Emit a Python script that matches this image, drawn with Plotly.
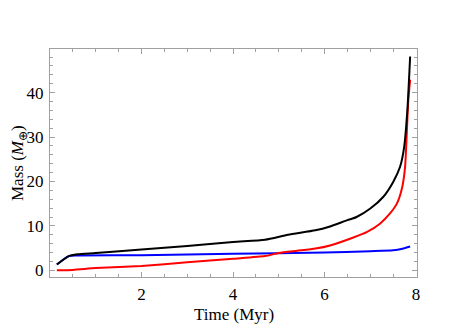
import plotly.graph_objects as go

# core masses vs time
t_black = [0.15, 0.41, 0.6, 1.0, 2.0, 3.0, 4.0, 4.7, 5.2, 5.8, 6.1, 6.5, 6.7, 7.0, 7.28,
           7.5, 7.65, 7.74, 7.81, 7.87]
m_black = [1.3, 3.2, 3.6, 3.9, 4.7, 5.5, 6.4, 6.9, 8.0, 9.0, 9.8, 11.3, 12.0, 13.9, 16.5,
           19.9, 23.3, 27.8, 36.1, 48.1]

t_red = [0.15, 0.5, 1.0, 2.0, 3.0, 4.0, 4.7, 5.0, 5.4, 5.8, 6.12, 6.63, 6.92, 7.21, 7.43,
         7.58, 7.69, 7.76, 7.79, 7.83, 7.87]
m_red = [0.0, 0.1, 0.5, 1.0, 1.8, 2.6, 3.2, 3.9, 4.4, 4.9, 5.6, 7.4, 8.6, 10.5, 12.8,
         15.0, 18.4, 23.3, 29.3, 38.3, 42.9]

t_blue = [0.15, 0.41, 0.6, 2.0, 4.0, 6.0, 7.0, 7.5, 7.7, 7.87]
m_blue = [1.3, 3.2, 3.35, 3.4, 3.75, 4.0, 4.3, 4.5, 4.85, 5.35]

font = dict(family='Liberation Serif, Times New Roman, serif', size=17, color='black')

fig = go.Figure()
fig.add_trace(go.Scatter(x=t_blue, y=m_blue, mode='lines',
                         line=dict(color='#0000ff', width=2, shape='spline', smoothing=0.6)))
fig.add_trace(go.Scatter(x=t_red, y=m_red, mode='lines',
                         line=dict(color='#ff0000', width=2, shape='spline', smoothing=0.6)))
fig.add_trace(go.Scatter(x=t_black, y=m_black, mode='lines',
                         line=dict(color='black', width=2, shape='spline', smoothing=0.6)))

axis_style = dict(showgrid=False, zeroline=False, showline=True, linecolor='#a0a0a0',
                  linewidth=1, mirror='ticks', ticks='inside', ticklen=5, tickwidth=1,
                  tickcolor='#a0a0a0', tickfont=font, ticklabelstandoff=2, automargin=False)

fig.update_xaxes(range=[0.0, 8.02], tickvals=[2, 4, 6, 8],
                 minor=dict(dtick=0.5, ticks='inside', ticklen=3, tickcolor='#a0a0a0'),
                 **axis_style)
fig.update_yaxes(range=[-1.5, 49.8], tickvals=[0, 10, 20, 30, 40],
                 minor=dict(dtick=2, ticks='inside', ticklen=3, tickcolor='#a0a0a0'),
                 **axis_style)

# axis titles placed by hand
fig.add_annotation(text='Time (Myr)', xref='paper', yref='paper', x=0.5, y=0,
                   xanchor='center', yanchor='middle', yshift=-37, showarrow=False, font=font)
fig.add_annotation(text='Mass (<i>M</i><sub>⊕</sub>)', xref='paper', yref='paper', x=0, y=0.5,
                   xanchor='center', yanchor='middle', xshift=-31, textangle=-90,
                   showarrow=False, font=font)

# the page body adds an 8px offset, so the figure is a bit smaller than the window
fig.update_layout(width=459, height=319, showlegend=False,
                  margin=dict(l=42, r=50, t=41, b=50),
                  plot_bgcolor='white', paper_bgcolor='white', font=font)

fig.write_html("out.html")
